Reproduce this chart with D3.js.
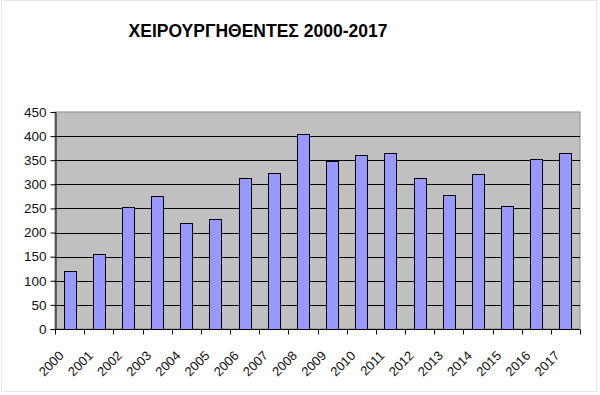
<!DOCTYPE html>
<html>
<head>
<meta charset="utf-8">
<script src="https://cdn.jsdelivr.net/npm/d3@7"></script>
<style>
body { margin: 0; background: #fff; }
text { font-family: "Liberation Sans", Arial, sans-serif; }
</style>
</head>
<body>
<script>
var years = ["2000","2001","2002","2003","2004","2005","2006","2007","2008",
             "2009","2010","2011","2012","2013","2014","2015","2016","2017"];
var patients = [120, 155, 254, 276, 219, 229, 314, 323, 405,
                349, 361, 365, 314, 278, 321, 256, 352, 364];
var yTicks = [0, 50, 100, 150, 200, 250, 300, 350, 400, 450];
var title = "ΧΕΙΡΟΥΡΓΗΘΕΝΤΕΣ 2000-2017";

var outerWidth = 600;
var outerHeight = 395;
var marginLeft = 55;
var marginRight = 20;
var marginTop = 112;
var marginBottom = 66;

var svg = d3.select("body").append("svg")
    .attr("width", outerWidth)
    .attr("height", outerHeight);

// faint outer frame
svg.append("rect")
    .attr("x", 1.5).attr("y", 0.5)
    .attr("width", 595).attr("height", 391)
    .attr("fill", "#fff")
    .attr("stroke", "#e6e6e6");

var x = d3.scaleBand()
    .domain(years)
    .range([marginLeft, outerWidth - marginRight])
    .paddingInner(0.59)
    .paddingOuter(0.295);

var y = d3.scaleLinear()
    .domain([0, 450])
    .range([outerHeight - marginBottom, marginTop]);

var plotW = outerWidth - marginRight - marginLeft;
var plotH = y(0) - y(450);

svg.append("rect")
    .attr("x", marginLeft).attr("y", y(450))
    .attr("width", plotW).attr("height", plotH)
    .attr("fill", "#c0c0c0")
    .attr("stroke", "#8a8a8a");

svg.append("g")
    .selectAll("line")
    .data(yTicks.filter(function(d){ return d > 0 && d < 450; }))
    .enter()
    .append("line")
    .attr("x1", marginLeft).attr("x2", marginLeft + plotW)
    .attr("y1", function(d){ return Math.round(y(d)) + 0.5; })
    .attr("y2", function(d){ return Math.round(y(d)) + 0.5; })
    .attr("stroke", "#000");

svg.append("g")
    .selectAll("rect")
    .data(patients)
    .enter()
    .append("rect")
    .attr("x", function(d, i){ return Math.round(x(years[i])) + 0.5; })
    .attr("y", function(d){ return Math.round(y(d)) + 0.5; })
    .attr("width", Math.round(x.bandwidth()))
    .attr("height", function(d){ return Math.round(y(0)) - Math.round(y(d)); })
    .attr("fill", "#9999ff")
    .attr("stroke", "#000");

// y axis
var yAxis = svg.append("g")
    .attr("transform", "translate(" + (marginLeft + 0.5) + ",0)")
    .call(d3.axisLeft(y).tickValues(yTicks).tickSize(5).tickPadding(4));
yAxis.select(".domain").attr("stroke", "#000");
yAxis.selectAll("text")
    .attr("font-size", 13.5)
    .attr("fill", "#111")
    .style("font-family", "'Liberation Sans', Arial, sans-serif");

// x axis: ticks at band edges
var xAxis = svg.append("g")
    .attr("transform", "translate(0," + (Math.round(y(0)) + 0.5) + ")");
xAxis.append("line")
    .attr("x1", marginLeft).attr("x2", marginLeft + plotW)
    .attr("stroke", "#000");
var step = x.step();
xAxis.selectAll(".tk")
    .data(d3.range(years.length + 1))
    .enter()
    .append("line")
    .attr("class", "tk")
    .attr("x1", function(i){ return Math.round(marginLeft + i * step) + 0.5; })
    .attr("x2", function(i){ return Math.round(marginLeft + i * step) + 0.5; })
    .attr("y1", 0).attr("y2", 5)
    .attr("stroke", "#000");
xAxis.selectAll(".lbl")
    .data(years)
    .enter()
    .append("text")
    .attr("class", "lbl")
    .attr("text-anchor", "end")
    .attr("font-size", 13)
    .attr("fill", "#111")
    .attr("transform", function(d){
        return "translate(" + (x(d) + x.bandwidth() / 2 - 5) + ",27) rotate(-45)";
    })
    .text(function(d){ return d; });

svg.append("text")
    .attr("x", 258)
    .attr("y", 37)
    .attr("text-anchor", "middle")
    .attr("font-size", 17.5)
    .attr("font-weight", "bold")
    .attr("fill", "#000")
    .text(title);
</script>
</body>
</html>
